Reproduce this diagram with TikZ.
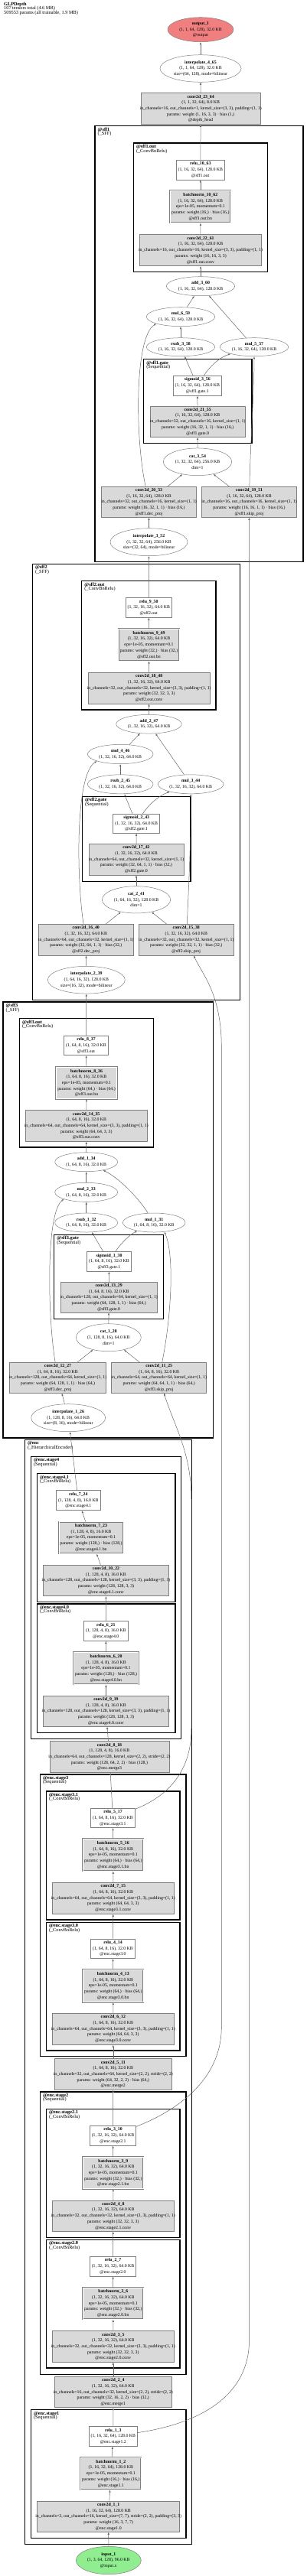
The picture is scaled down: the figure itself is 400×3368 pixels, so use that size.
\documentclass[tikz,border=0pt]{standalone}
\usepackage{fontspec}
\setmainfont{Liberation Serif}
\usetikzlibrary{shapes.geometric,arrows.meta}

\definecolor{outred}{HTML}{F08080}
\definecolor{ingreen}{HTML}{90EE90}
\definecolor{opgray}{HTML}{D9D9D9}

\newcommand{\nfont}{\fontsize{5.8}{7.7}\selectfont}
\newcommand{\cfont}{\fontsize{6.3}{5.5}\selectfont\lineskiplimit=-10pt}

\tikzset{
  gnode/.style={draw=black!50, line width=0.5pt, inner xsep=-60pt, inner ysep=0pt, align=center, font=\nfont},
  tbox/.style={gnode, rectangle, fill=white},
  gbox/.style={gnode, rectangle, fill=opgray},
  bnbox/.style={gbox, double=white, double distance=0.9pt},
  tens/.style={gnode, ellipse, fill=white},
  clus/.style={draw=black, line width=1.4pt},
  clab/.style={anchor=north west, inner sep=0pt, align=left, font=\cfont},
  flow/.style={draw=black!60, line width=0.5pt, -{Latex[length=3.2pt,width=2.4pt]}},
}

\begin{document}
\begin{tikzpicture}[x=1pt, y=-1pt]
\useasboundingbox (0,0) rectangle (400,3368);

\node[clab] (title) at (5,2.5) {\textbf{GLPDepth}\\107 tensors total (4.6 MB)\\509553 params (all trainable, 1.9 MB)};

  %clusters
\draw[clus] (124,164.7) rectangle (396,734.3);
\draw[clus] (174.3,187) rectangle (349.3,355.3);
\draw[clus] (187.7,469.7) rectangle (329,579.3);
\draw[clus] (42.3,737.3) rectangle (313.7,1307.3);
\draw[clus] (106.7,759.7) rectangle (282,928);
\draw[clus] (107.3,1041.3) rectangle (249,1152.3);
\draw[clus] (4,1310) rectangle (278.3,1880);
\draw[clus] (25.3,1331.7) rectangle (200.3,1500);
\draw[clus] (70.7,1614.3) rectangle (213.3,1724.3);
\draw[clus] (32.3,1882.3) rectangle (250.7,3326.7);
\draw[clus] (40.3,1904.3) rectangle (236.7,2273.3);
\draw[clus] (48.3,1926.7) rectangle (229,2094.3);
\draw[clus] (48.3,2097) rectangle (229,2265.7);
\draw[clus] (52.3,2320) rectangle (243,2688.7);
\draw[clus] (60.3,2342) rectangle (235,2510);
\draw[clus] (60.3,2513.3) rectangle (235,2681);
\draw[clus] (52.3,2735) rectangle (243,3104.3);
\draw[clus] (60.3,2757.3) rectangle (235,2925.3);
\draw[clus] (60.3,2928.3) rectangle (235,3096);
\draw[clus] (40.3,3150.7) rectangle (243,3318.7);

\node[clab] (sff1lab) at (127.5,166.7) {\textbf{@sff1}\\(\_SFF)};
\node[clab] (sff1outlab) at (177.8,189) {\textbf{@sff1.out}\\(\_ConvBnRelu)};
\node[clab] (sff1gatelab) at (191.2,471.7) {\textbf{@sff1.gate}\\(Sequential)};
\node[clab] (sff2lab) at (45.8,739.3) {\textbf{@sff2}\\(\_SFF)};
\node[clab] (sff2outlab) at (110.2,761.7) {\textbf{@sff2.out}\\(\_ConvBnRelu)};
\node[clab] (sff2gatelab) at (110.8,1043.3) {\textbf{@sff2.gate}\\(Sequential)};
\node[clab] (sff3lab) at (7.5,1312) {\textbf{@sff3}\\(\_SFF)};
\node[clab] (sff3outlab) at (28.8,1333.7) {\textbf{@sff3.out}\\(\_ConvBnRelu)};
\node[clab] (sff3gatelab) at (74.2,1616.3) {\textbf{@sff3.gate}\\(Sequential)};
\node[clab] (enclab) at (35.8,1884.3) {\textbf{@enc}\\(\_HierarchicalEncoder)};
\node[clab] (stfourlab) at (43.8,1906.3) {\textbf{@enc.stage4}\\(Sequential)};
\node[clab] (stfouronelab) at (51.8,1928.7) {\textbf{@enc.stage4.1}\\(\_ConvBnRelu)};
\node[clab] (stfourzerolab) at (51.8,2099) {\textbf{@enc.stage4.0}\\(\_ConvBnRelu)};
\node[clab] (stthreelab) at (55.8,2322) {\textbf{@enc.stage3}\\(Sequential)};
\node[clab] (stthreeonelab) at (63.8,2344) {\textbf{@enc.stage3.1}\\(\_ConvBnRelu)};
\node[clab] (stthreezerolab) at (63.8,2515.3) {\textbf{@enc.stage3.0}\\(\_ConvBnRelu)};
\node[clab] (sttwolab) at (55.8,2737) {\textbf{@enc.stage2}\\(Sequential)};
\node[clab] (sttwoonelab) at (63.8,2759.3) {\textbf{@enc.stage2.1}\\(\_ConvBnRelu)};
\node[clab] (sttwozerolab) at (63.8,2930.3) {\textbf{@enc.stage2.0}\\(\_ConvBnRelu)};
\node[clab] (stonelab) at (43.8,3152.7) {\textbf{@enc.stage1}\\(Sequential)};

  %head
\node[tens, fill=outred, minimum width=86, minimum height=32] (out1) at (262,38.7) {\textbf{output\_1}\\(1, 1, 64, 128), 32.0 KB\\@output};
\node[tens, minimum width=106, minimum height=35.6] (interp4) at (262,89.5) {\textbf{interpolate\_4\_65}\\(1, 1, 64, 128), 32.0 KB\\size=(64, 128), mode=bilinear};
\node[gbox, minimum width=155.7, minimum height=40.6] (conv23) at (262.2,142) {\textbf{conv2d\_23\_64}\\(1, 1, 32, 64), 8.0 KB\\in\_channels=16, out\_channels=1, kernel\_size=(3, 3), padding=(1, 1)\\params: weight (1, 16, 3, 3) · bias (1,)\\@depth\_head};

  %sff1
\node[tbox, minimum width=63, minimum height=26] (relu10) at (261.8,222) {\textbf{relu\_10\_63}\\(1, 16, 32, 64), 128.0 KB\\@sff1.out};
\node[bnbox, minimum width=79, minimum height=42] (bn10) at (261.8,270.3) {\textbf{batchnorm\_10\_62}\\(1, 16, 32, 64), 128.0 KB\\eps=1e-05, momentum=0.1\\params: weight (16,) · bias (16,)\\@sff1.out.bn};
\node[gbox, minimum width=158.6, minimum height=41] (conv22) at (262,327.2) {\textbf{conv2d\_22\_61}\\(1, 16, 32, 64), 128.0 KB\\in\_channels=16, out\_channels=16, kernel\_size=(3, 3), padding=(1, 1)\\params: weight (16, 16, 3, 3)\\@sff1.out.conv};
\node[tens, minimum width=89.4, minimum height=25] (add3) at (262,374.2) {\textbf{add\_3\_60}\\(1, 16, 32, 64), 128.0 KB};
\node[tens, minimum width=89.4, minimum height=25] (mul6) at (236,414.2) {\textbf{mul\_6\_59}\\(1, 16, 32, 64), 128.0 KB};
\node[tens, minimum width=89.4, minimum height=24] (rsub3) at (236,453.7) {\textbf{rsub\_3\_58}\\(1, 16, 32, 64), 128.0 KB};
\node[tens, minimum width=89.4, minimum height=24] (mul5) at (332,453.7) {\textbf{mul\_5\_57}\\(1, 16, 32, 64), 128.0 KB};
\node[tbox, minimum width=63, minimum height=26.3] (sig3) at (257.8,504.2) {\textbf{sigmoid\_3\_56}\\(1, 16, 32, 64), 128.0 KB\\@sff1.gate.1};
\node[gbox, minimum width=123.7, minimum height=40.7] (conv21) at (258.2,551.3) {\textbf{conv2d\_21\_55}\\(1, 16, 32, 64), 128.0 KB\\in\_channels=32, out\_channels=16, kernel\_size=(1, 1)\\params: weight (16, 32, 1, 1) · bias (16,)\\@sff1.gate.0};
\node[tens, minimum width=89.4, minimum height=35.7] (cat3) at (258,603.8) {\textbf{cat\_3\_54}\\(1, 32, 32, 64), 256.0 KB\\dim=1};
\node[gbox, minimum width=124.4, minimum height=40] (conv20) at (194.5,656.3) {\textbf{conv2d\_20\_53}\\(1, 16, 32, 64), 128.0 KB\\in\_channels=32, out\_channels=16, kernel\_size=(1, 1)\\params: weight (16, 32, 1, 1) · bias (16,)\\@sff1.dec\_proj};
\node[gbox, minimum width=124.4, minimum height=40] (conv19) at (325.5,656.3) {\textbf{conv2d\_19\_51}\\(1, 16, 32, 64), 128.0 KB\\in\_channels=16, out\_channels=16, kernel\_size=(1, 1)\\params: weight (16, 16, 1, 1) · bias (16,)\\@sff1.skip\_proj};
\node[tens, minimum width=101, minimum height=36] (interp3) at (194.5,708.7) {\textbf{interpolate\_3\_52}\\(1, 32, 32, 64), 256.0 KB\\size=(32, 64), mode=bilinear};

  %sff2
\node[tbox, minimum width=60, minimum height=26] (relu9) at (194.3,794.3) {\textbf{relu\_9\_50}\\(1, 32, 16, 32), 64.0 KB\\@sff2.out};
\node[bnbox, minimum width=79.6, minimum height=41.7] (bn9) at (194.5,843.2) {\textbf{batchnorm\_9\_49}\\(1, 32, 16, 32), 64.0 KB\\eps=1e-05, momentum=0.1\\params: weight (32,) · bias (32,)\\@sff2.out.bn};
\node[gbox, minimum width=158.7, minimum height=40.7] (conv18) at (194.7,899.7) {\textbf{conv2d\_18\_48}\\(1, 32, 16, 32), 64.0 KB\\in\_channels=32, out\_channels=32, kernel\_size=(3, 3), padding=(1, 1)\\params: weight (32, 32, 3, 3)\\@sff2.out.conv};
\node[tens, minimum width=85.6, minimum height=24.7] (add2) at (194.5,946.7) {\textbf{add\_2\_47}\\(1, 32, 16, 32), 64.0 KB};
\node[tens, minimum width=85.7, minimum height=25.3] (mul4) at (157.2,986) {\textbf{mul\_4\_46}\\(1, 32, 16, 32), 64.0 KB};
\node[tens, minimum width=85.7, minimum height=25] (rsub2) at (157.2,1025.3) {\textbf{rsub\_2\_45}\\(1, 32, 16, 32), 64.0 KB};
\node[tens, minimum width=85.7, minimum height=25] (mul3) at (249.2,1025.3) {\textbf{mul\_3\_44}\\(1, 32, 16, 32), 64.0 KB};
\node[tbox, minimum width=61, minimum height=25.3] (sig2) at (178.2,1076.7) {\textbf{sigmoid\_2\_43}\\(1, 32, 16, 32), 64.0 KB\\@sff2.gate.1};
\node[gbox, minimum width=124, minimum height=40.7] (conv17) at (178,1123.7) {\textbf{conv2d\_17\_42}\\(1, 32, 16, 32), 64.0 KB\\in\_channels=64, out\_channels=32, kernel\_size=(1, 1)\\params: weight (32, 64, 1, 1) · bias (32,)\\@sff2.gate.0};
\node[tens, minimum width=89.4, minimum height=35.3] (cat2) at (178,1176.3) {\textbf{cat\_2\_41}\\(1, 64, 16, 32), 128.0 KB\\dim=1};
\node[gbox, minimum width=124, minimum height=40.7] (conv16) at (112.3,1228.7) {\textbf{conv2d\_16\_40}\\(1, 32, 16, 32), 64.0 KB\\in\_channels=64, out\_channels=32, kernel\_size=(1, 1)\\params: weight (32, 64, 1, 1) · bias (32,)\\@sff2.dec\_proj};
\node[gbox, minimum width=124, minimum height=40.7] (conv15) at (243.3,1228.7) {\textbf{conv2d\_15\_38}\\(1, 32, 16, 32), 64.0 KB\\in\_channels=32, out\_channels=32, kernel\_size=(1, 1)\\params: weight (32, 32, 1, 1) · bias (32,)\\@sff2.skip\_proj};
\node[tens, minimum width=101, minimum height=35.7] (interp2) at (112.8,1281.2) {\textbf{interpolate\_2\_39}\\(1, 64, 16, 32), 128.0 KB\\size=(16, 32), mode=bilinear};

  %sff3
\node[tbox, minimum width=58.4, minimum height=25.4] (relu8) at (112.5,1367) {\textbf{relu\_8\_37}\\(1, 64, 8, 16), 32.0 KB\\@sff3.out};
\node[bnbox, minimum width=79.4, minimum height=41.4] (bn8) at (113,1416) {\textbf{batchnorm\_8\_36}\\(1, 64, 8, 16), 32.0 KB\\eps=1e-05, momentum=0.1\\params: weight (64,) · bias (64,)\\@sff3.out.bn};
\node[gbox, minimum width=159, minimum height=40.6] (conv14) at (112.8,1472) {\textbf{conv2d\_14\_35}\\(1, 64, 8, 16), 32.0 KB\\in\_channels=64, out\_channels=64, kernel\_size=(3, 3), padding=(1, 1)\\params: weight (64, 64, 3, 3)\\@sff3.out.conv};
\node[tens, minimum width=82, minimum height=25] (add1) at (112.7,1519.2) {\textbf{add\_1\_34}\\(1, 64, 8, 16), 32.0 KB};
\node[tens, minimum width=82, minimum height=25] (mul2) at (112.7,1558.8) {\textbf{mul\_2\_33}\\(1, 64, 8, 16), 32.0 KB};
\node[tens, minimum width=82, minimum height=25] (rsub1) at (112.7,1598.5) {\textbf{rsub\_1\_32}\\(1, 64, 8, 16), 32.0 KB};
\node[tens, minimum width=81.7, minimum height=25] (mul1) at (201.2,1598.5) {\textbf{mul\_1\_31}\\(1, 64, 8, 16), 32.0 KB};
\node[tbox, minimum width=58.4, minimum height=25.6] (sig1) at (142.5,1649.5) {\textbf{sigmoid\_1\_30}\\(1, 64, 8, 16), 32.0 KB\\@sff3.gate.1};
\node[gbox, minimum width=126.3, minimum height=39.3] (conv13) at (142.2,1696.3) {\textbf{conv2d\_13\_29}\\(1, 64, 8, 16), 32.0 KB\\in\_channels=128, out\_channels=64, kernel\_size=(1, 1)\\params: weight (64, 128, 1, 1) · bias (64,)\\@sff3.gate.0};
\node[tens, minimum width=85, minimum height=36] (cat1) at (141.8,1748.7) {\textbf{cat\_1\_28}\\(1, 128, 8, 16), 64.0 KB\\dim=1};
\node[gbox, minimum width=126.4, minimum height=40] (conv12) at (75.5,1801.3) {\textbf{conv2d\_12\_27}\\(1, 64, 8, 16), 32.0 KB\\in\_channels=128, out\_channels=64, kernel\_size=(1, 1)\\params: weight (64, 128, 1, 1) · bias (64,)\\@sff3.dec\_proj};
\node[gbox, minimum width=124, minimum height=40] (conv11) at (207.7,1801.3) {\textbf{conv2d\_11\_25}\\(1, 64, 8, 16), 32.0 KB\\in\_channels=64, out\_channels=64, kernel\_size=(1, 1)\\params: weight (64, 64, 1, 1) · bias (64,)\\@sff3.skip\_proj};
\node[tens, minimum width=97, minimum height=36] (interp1) at (89.2,1853.7) {\textbf{interpolate\_1\_26}\\(1, 128, 8, 16), 64.0 KB\\size=(8, 16), mode=bilinear};

  %enc stage4
\node[tbox, minimum width=58, minimum height=26] (relu7) at (102.3,1961.7) {\textbf{relu\_7\_24}\\(1, 128, 4, 8), 16.0 KB\\@enc.stage4.1};
\node[bnbox, minimum width=84, minimum height=41.6] (bn7) at (119,2010.5) {\textbf{batchnorm\_7\_23}\\(1, 128, 4, 8), 16.0 KB\\eps=1e-05, momentum=0.1\\params: weight (128,) · bias (128,)\\@enc.stage4.1.bn};
\node[gbox, minimum width=164.4, minimum height=40.4] (conv10) at (138.5,2066.5) {\textbf{conv2d\_10\_22}\\(1, 128, 4, 8), 16.0 KB\\in\_channels=128, out\_channels=128, kernel\_size=(3, 3), padding=(1, 1)\\params: weight (128, 128, 3, 3)\\@enc.stage4.1.conv};
\node[tbox, minimum width=58, minimum height=26] (relu6) at (138.3,2132.3) {\textbf{relu\_6\_21}\\(1, 128, 4, 8), 16.0 KB\\@enc.stage4.0};
\node[bnbox, minimum width=84.4, minimum height=42] (bn6) at (138.5,2181.3) {\textbf{batchnorm\_6\_20}\\(1, 128, 4, 8), 16.0 KB\\eps=1e-05, momentum=0.1\\params: weight (128,) · bias (128,)\\@enc.stage4.0.bn};
\node[gbox, minimum width=164.4, minimum height=40] (conv9) at (138.5,2237.3) {\textbf{conv2d\_9\_19}\\(1, 128, 4, 8), 16.0 KB\\in\_channels=128, out\_channels=128, kernel\_size=(3, 3), padding=(1, 1)\\params: weight (128, 128, 3, 3)\\@enc.stage4.0.conv};
\node[gbox, minimum width=156, minimum height=40.6] (conv8) at (143,2297) {\textbf{conv2d\_8\_18}\\(1, 128, 4, 8), 16.0 KB\\in\_channels=64, out\_channels=128, kernel\_size=(2, 2), stride=(2, 2)\\params: weight (128, 64, 2, 2) · bias (128,)\\@enc.merge3};

  %enc stage3
\node[tbox, minimum width=58.4, minimum height=25.4] (relu5) at (147.5,2377) {\textbf{relu\_5\_17}\\(1, 64, 8, 16), 32.0 KB\\@enc.stage3.1};
\node[bnbox, minimum width=79, minimum height=42] (bn5) at (147.8,2425.3) {\textbf{batchnorm\_5\_16}\\(1, 64, 8, 16), 32.0 KB\\eps=1e-05, momentum=0.1\\params: weight (64,) · bias (64,)\\@enc.stage3.1.bn};
\node[gbox, minimum width=159, minimum height=41] (conv7) at (147.8,2481.8) {\textbf{conv2d\_7\_15}\\(1, 64, 8, 16), 32.0 KB\\in\_channels=64, out\_channels=64, kernel\_size=(3, 3), padding=(1, 1)\\params: weight (64, 64, 3, 3)\\@enc.stage3.1.conv};
\node[tbox, minimum width=58.4, minimum height=25.7] (relu4) at (147.5,2547.8) {\textbf{relu\_4\_14}\\(1, 64, 8, 16), 32.0 KB\\@enc.stage3.0};
\node[bnbox, minimum width=79, minimum height=42.4] (bn4) at (147.8,2596.5) {\textbf{batchnorm\_4\_13}\\(1, 64, 8, 16), 32.0 KB\\eps=1e-05, momentum=0.1\\params: weight (64,) · bias (64,)\\@enc.stage3.0.bn};
\node[gbox, minimum width=159, minimum height=41] (conv6) at (147.8,2652.8) {\textbf{conv2d\_6\_12}\\(1, 64, 8, 16), 32.0 KB\\in\_channels=64, out\_channels=64, kernel\_size=(3, 3), padding=(1, 1)\\params: weight (64, 64, 3, 3)\\@enc.stage3.0.conv};
\node[gbox, minimum width=153, minimum height=40.6] (conv5) at (147.8,2712) {\textbf{conv2d\_5\_11}\\(1, 64, 8, 16), 32.0 KB\\in\_channels=32, out\_channels=64, kernel\_size=(2, 2), stride=(2, 2)\\params: weight (64, 32, 2, 2) · bias (64,)\\@enc.merge2};

  %enc stage2
\node[tbox, minimum width=60.4, minimum height=25.7] (relu3) at (147.5,2792.2) {\textbf{relu\_3\_10}\\(1, 32, 16, 32), 64.0 KB\\@enc.stage2.1};
\node[bnbox, minimum width=79, minimum height=41.4] (bn3) at (147.8,2841) {\textbf{batchnorm\_3\_9}\\(1, 32, 16, 32), 64.0 KB\\eps=1e-05, momentum=0.1\\params: weight (32,) · bias (32,)\\@enc.stage2.1.bn};
\node[gbox, minimum width=159, minimum height=40.3] (conv4) at (147.8,2897.2) {\textbf{conv2d\_4\_8}\\(1, 32, 16, 32), 64.0 KB\\in\_channels=32, out\_channels=32, kernel\_size=(3, 3), padding=(1, 1)\\params: weight (32, 32, 3, 3)\\@enc.stage2.1.conv};
\node[tbox, minimum width=60.4, minimum height=25.7] (relu2) at (147.5,2963.2) {\textbf{relu\_2\_7}\\(1, 32, 16, 32), 64.0 KB\\@enc.stage2.0};
\node[bnbox, minimum width=79, minimum height=41] (bn2) at (147.8,3011.8) {\textbf{batchnorm\_2\_6}\\(1, 32, 16, 32), 64.0 KB\\eps=1e-05, momentum=0.1\\params: weight (32,) · bias (32,)\\@enc.stage2.0.bn};
\node[gbox, minimum width=159, minimum height=40.6] (conv3) at (147.8,3068) {\textbf{conv2d\_3\_5}\\(1, 32, 16, 32), 64.0 KB\\in\_channels=32, out\_channels=32, kernel\_size=(3, 3), padding=(1, 1)\\params: weight (32, 32, 3, 3)\\@enc.stage2.0.conv};
\node[gbox, minimum width=153, minimum height=40] (conv2) at (147.8,3127.7) {\textbf{conv2d\_2\_4}\\(1, 32, 16, 32), 64.0 KB\\in\_channels=16, out\_channels=32, kernel\_size=(2, 2), stride=(2, 2)\\params: weight (32, 16, 2, 2) · bias (32,)\\@enc.merge1};

  %enc stage1
\node[tbox, minimum width=63, minimum height=26] (relu1) at (147.8,3185.3) {\textbf{relu\_1\_3}\\(1, 16, 32, 64), 128.0 KB\\@enc.stage1.2};
\node[bnbox, minimum width=79, minimum height=41.7] (bn1) at (144.8,3234.2) {\textbf{batchnorm\_1\_2}\\(1, 16, 32, 64), 128.0 KB\\eps=1e-05, momentum=0.1\\params: weight (16,) · bias (16,)\\@enc.stage1.1};
\node[gbox, minimum width=186, minimum height=40] (conv1) at (141.7,3290.3) {\textbf{conv2d\_1\_1}\\(1, 16, 32, 64), 128.0 KB\\in\_channels=3, out\_channels=16, kernel\_size=(7, 7), stride=(2, 2), padding=(3, 3)\\params: weight (16, 3, 7, 7)\\@enc.stage1.0};
\node[tens, fill=ingreen, minimum width=85, minimum height=36.4] (input1) at (141.8,3347.5) {\textbf{input\_1}\\(1, 3, 64, 128), 96.0 KB\\@input.x};

  %bends of the skip edges
\coordinate (s1a) at (325.5,3060);
\coordinate (s2a) at (289.3,2650);
\coordinate (s2b) at (289.3,1370);
\coordinate (s3a) at (250,2260);
\coordinate (s3b) at (250,1960);

  %edges sff1
\draw[flow] (interp4) -- (out1);
\draw[flow] (conv23) -- (interp4);
\draw[flow] (relu10) -- (conv23);
\draw[flow] (bn10) -- (relu10);
\draw[flow] (conv22) -- (bn10);
\draw[flow] (add3) -- (conv22);
\draw[flow] (mul6) -- (add3);
\draw[flow] (mul5) -- (add3);
\draw[flow] (rsub3) -- (mul6);
\draw[flow] (sig3) -- (rsub3);
\draw[flow] (sig3) .. controls (276,476) and (290,466) .. (mul5);
\draw[flow] (conv21) -- (sig3);
\draw[flow] (cat3) -- (conv21);
\draw[flow] (conv20) -- (cat3);
\draw[flow] (conv19) -- (cat3);
\draw[flow] (conv20) .. controls (176,570) and (176,440) .. (mul6.south west);
\draw[flow] (conv19) .. controls (327,580) and (332,510) .. (mul5.south);
\draw[flow] (interp3) -- (conv20);

  %edges sff2
\draw[flow] (relu9) -- (interp3);
\draw[flow] (bn9) -- (relu9);
\draw[flow] (conv18) -- (bn9);
\draw[flow] (add2) -- (conv18);
\draw[flow] (mul4) -- (add2);
\draw[flow] (mul3) -- (add2);
\draw[flow] (rsub2) -- (mul4);
\draw[flow] (sig2) -- (rsub2);
\draw[flow] (sig2) .. controls (194,1052) and (208,1040) .. (mul3);
\draw[flow] (conv17) -- (sig2);
\draw[flow] (cat2) -- (conv17);
\draw[flow] (conv16) -- (cat2);
\draw[flow] (conv15) -- (cat2);
\draw[flow] (conv16) .. controls (100,1150) and (98,1012) .. (mul4.south west);
\draw[flow] (conv15) .. controls (247,1150) and (250,1080) .. (mul3.south);
\draw[flow] (interp2) -- (conv16);

  %edges sff3
\draw[flow] (relu8) -- (interp2);
\draw[flow] (bn8) -- (relu8);
\draw[flow] (conv14) -- (bn8);
\draw[flow] (add1) -- (conv14);
\draw[flow] (mul2) -- (add1);
\draw[flow] (mul1) .. controls (180,1565) and (155,1540) .. (add1);
\draw[flow] (rsub1) -- (mul2);
\draw[flow] (sig1) -- (rsub1);
\draw[flow] (sig1) .. controls (158,1625) and (170,1614) .. (mul1);
\draw[flow] (conv13) -- (sig1);
\draw[flow] (cat1) -- (conv13);
\draw[flow] (conv12) -- (cat1);
\draw[flow] (conv11) -- (cat1);
\draw[flow] (conv12) .. controls (62,1720) and (60,1585) .. (mul2.south west);
\draw[flow] (conv11) .. controls (224,1720) and (228,1640) .. (mul1.318);
\draw[flow] (interp1) -- (conv12);

  %edges enc
\draw[flow] (relu7) -- (interp1);
\draw[flow] (bn7) -- (relu7);
\draw[flow] (conv10) -- (bn7);
\draw[flow] (relu6) -- (conv10);
\draw[flow] (bn6) -- (relu6);
\draw[flow] (conv9) -- (bn6);
\draw[flow] (conv8) -- (conv9);
\draw[flow] (relu5) -- (conv8);
\draw[flow] (relu5) .. controls (215,2350) and (250,2320) .. (s3a) -- (s3b) .. controls (250,1900) and (228,1865) .. (conv11);
\draw[flow] (bn5) -- (relu5);
\draw[flow] (conv7) -- (bn5);
\draw[flow] (relu4) -- (conv7);
\draw[flow] (bn4) -- (relu4);
\draw[flow] (conv6) -- (bn4);
\draw[flow] (conv5) -- (conv6);
\draw[flow] (relu3) -- (conv5);
\draw[flow] (relu3) .. controls (230,2760) and (289.3,2720) .. (s2a) -- (s2b) .. controls (289.3,1300) and (265,1275) .. (conv15);
\draw[flow] (bn3) -- (relu3);
\draw[flow] (conv4) -- (bn3);
\draw[flow] (relu2) -- (conv4);
\draw[flow] (bn2) -- (relu2);
\draw[flow] (conv3) -- (bn2);
\draw[flow] (conv2) -- (conv3);
\draw[flow] (relu1) -- (conv2);
\draw[flow] (relu1) .. controls (265,3168) and (325.5,3130) .. (s1a) -- (conv19);
\draw[flow] (bn1) -- (relu1);
\draw[flow] (conv1) -- (bn1);
\draw[flow] (input1) -- (conv1);
\end{tikzpicture}
\end{document}
